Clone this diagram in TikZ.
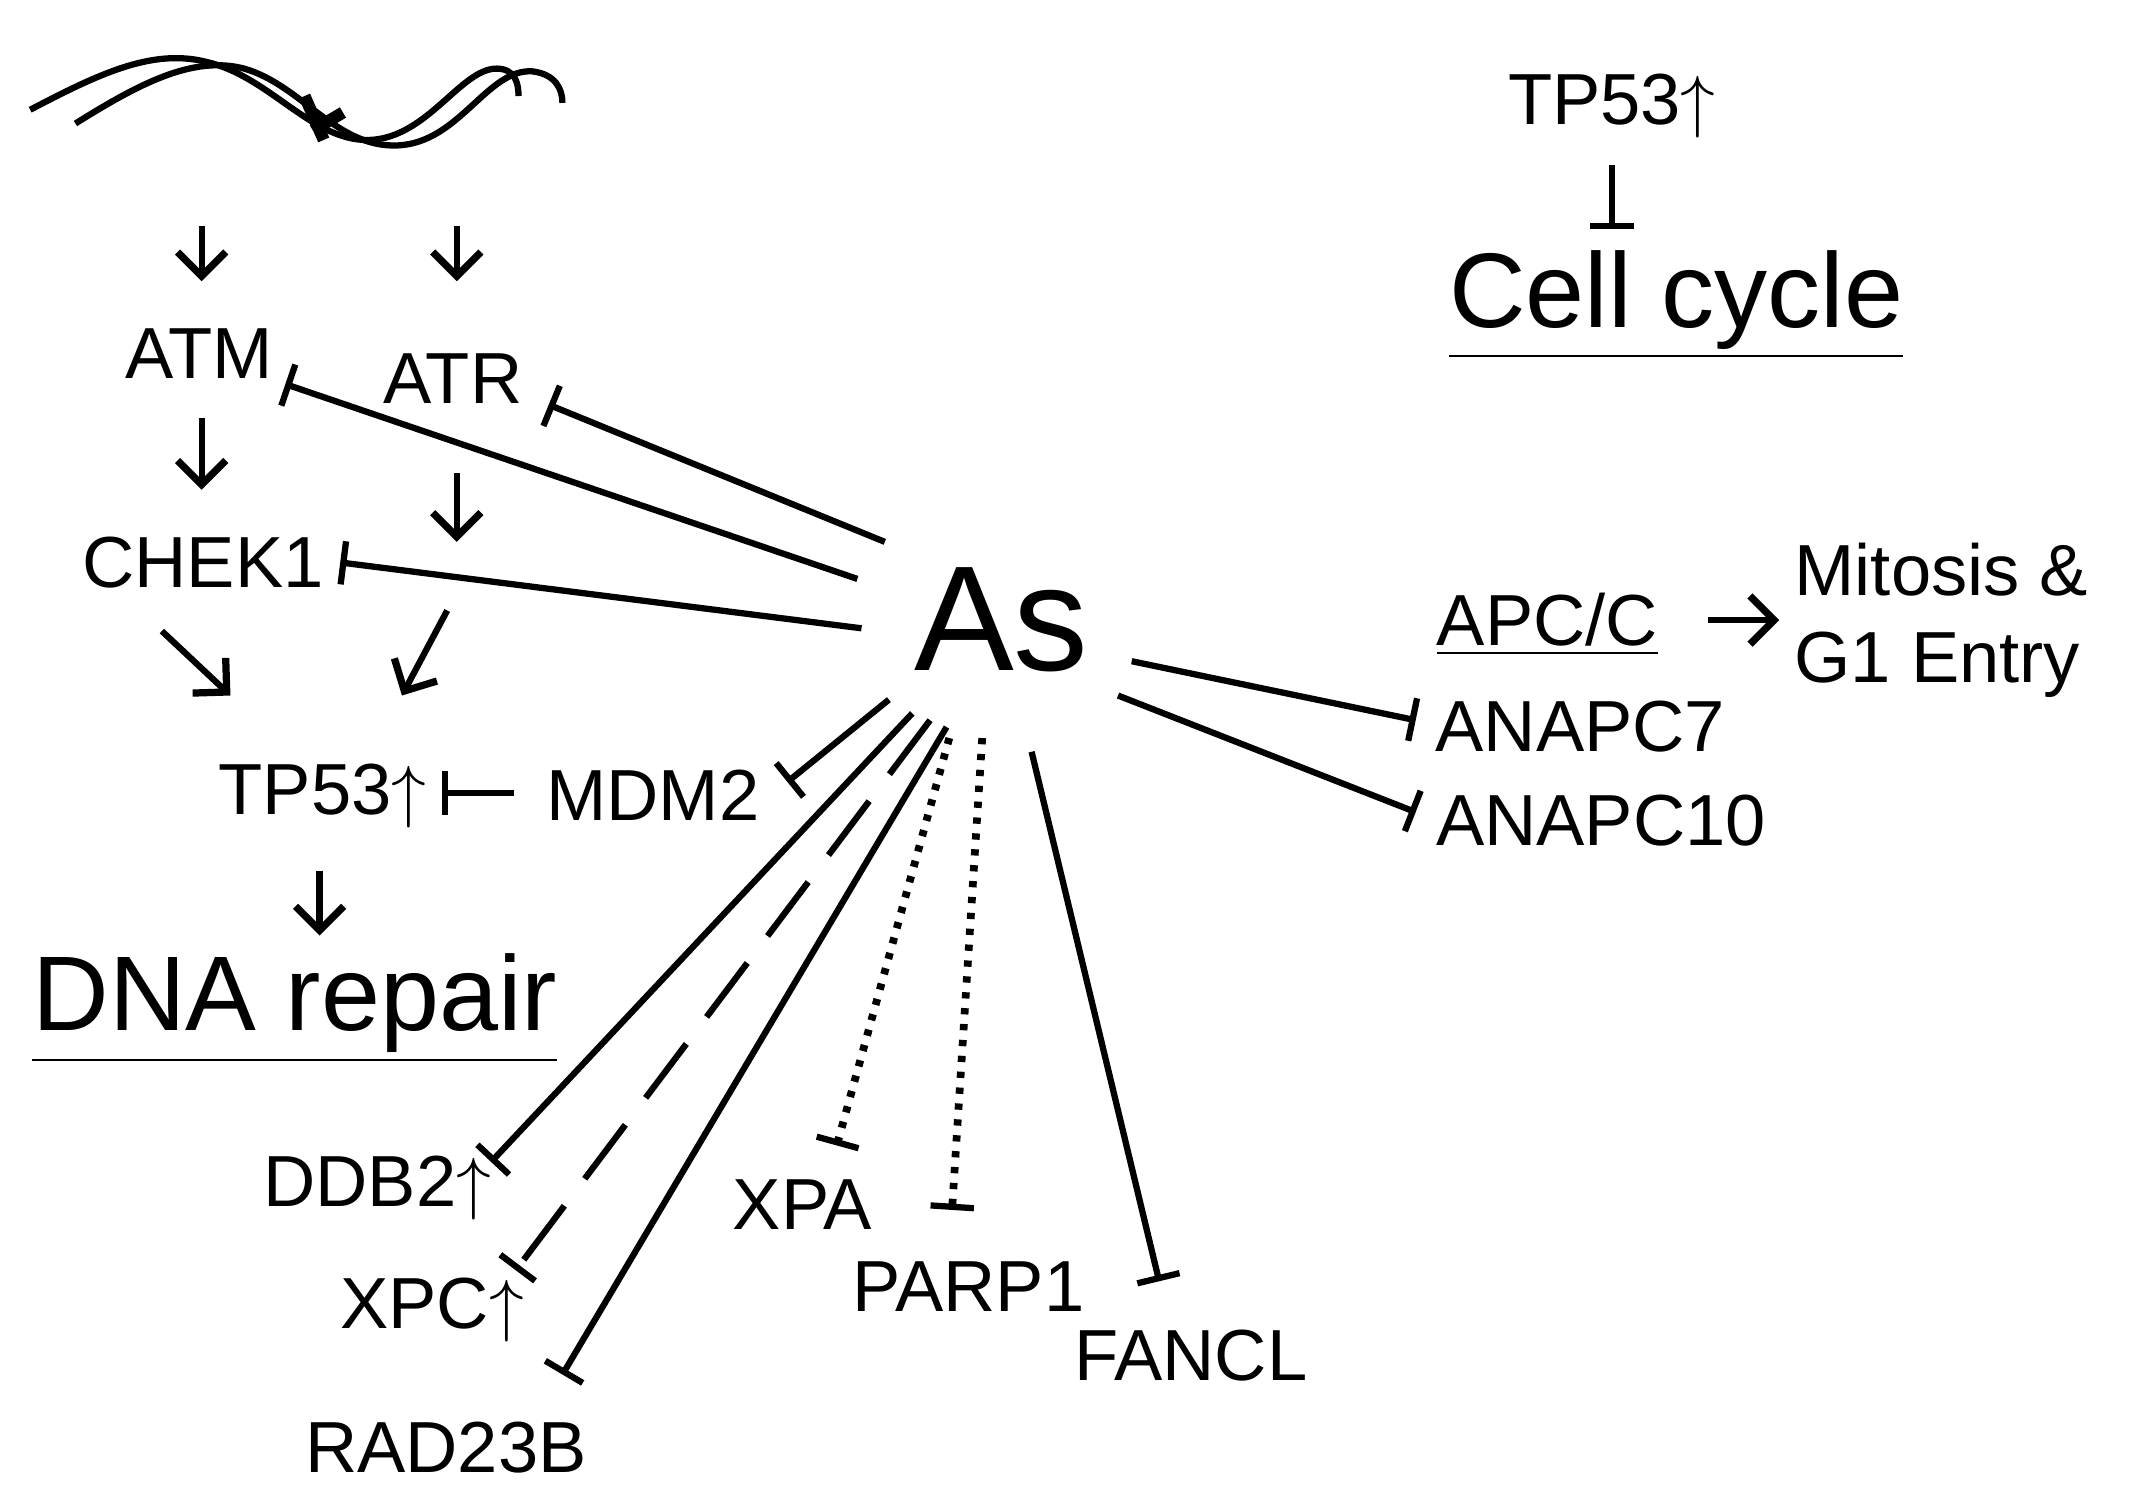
\documentclass[tikz,border=0pt]{standalone}
\usepackage{fontspec}
\setmainfont{Liberation Sans}
\usetikzlibrary{arrows.meta}
\begin{document}
\begin{tikzpicture}[x=0.01cm,y=-0.01cm,
  lbl/.style={font=\fontsize{15}{18}\selectfont,inner sep=1pt},
  con/.style={line width=1.3pt},
  inh/.style={con,-{Bar[width=9pt,line width=1.3pt]}},
  act/.style={con,-{Straight Barb[length=5pt,width=10pt,line width=1.5pt]}}]
\useasboundingbox (0,0) rectangle (1560,1093);
% DNA
\draw[line width=1.3pt] (22,80) .. controls (70,55) and (110,35) .. (150,45) .. controls (195,55) and (225,100) .. (265,102) .. controls (310,104) and (335,50) .. (362,50) .. controls (375,50) and (378,60) .. (378,70);
\draw[line width=1.3pt] (55,90) .. controls (100,62) and (140,40) .. (178,50) .. controls (220,62) and (245,108) .. (290,106) .. controls (335,104) and (355,50) .. (388,52) .. controls (405,54) and (410,65) .. (410,75);
\draw[line width=2.5pt] (222,70) -- (236,102) (228,95) -- (250,82);
% left nodes
\node[lbl] (ATM) at (145,258) {ATM};
\node[lbl] (ATR) at (330,276) {ATR};
\node[lbl] (CHEK1) at (148,410) {CHEK1};
\node[lbl] (TP53a) at (235,580) {TP53$\uparrow$};
\node[lbl] (MDM2) at (476,580) {MDM2};
\node[font=\fontsize{22}{26}\selectfont,inner sep=1pt] (DNA) at (215,735) {\underline{DNA repair}};
\coordinate (d1a) at (147,165); \coordinate (d1b) at (147,205);
\coordinate (d2a) at (333,165); \coordinate (d2b) at (333,205);
\draw[act] (d1a) -- (d1b); \draw[act] (d2a) -- (d2b);
\coordinate (m1a) at (147,305); \coordinate (m1b) at (147,357);
\coordinate (m2a) at (333,345); \coordinate (m2b) at (333,395);
\draw[act] (m1a) -- (m1b); \draw[act] (m2a) -- (m2b);
\coordinate (g1a) at (118,460); \coordinate (g1b) at (168,507);
\coordinate (g2a) at (326,445); \coordinate (g2b) at (293,507);
\draw[act] (g1a) -- (g1b); \draw[act] (g2a) -- (g2b);
\coordinate (mdS) at (375,578); \coordinate (mdE) at (322,578);
\draw[inh] (mdS) -- (mdE);
\coordinate (rA) at (233,635); \coordinate (rB) at (233,682);
\draw[act] (rA) -- (rB);
% As
\node[font=\fontsize{31}{36}\selectfont,inner sep=0pt] (As) at (730,452) {As};
\coordinate (sATM) at (625,422); \coordinate (eATM) at (208,280);
\coordinate (sATR) at (645,395); \coordinate (eATR) at (400,295);
\coordinate (sCH) at (628,458); \coordinate (eCH) at (248,410);
\coordinate (sMD) at (648,510); \coordinate (eMD) at (574,570);
\draw[inh] (sATM) -- (eATM);
\draw[inh] (sATR) -- (eATR);
\draw[inh] (sCH) -- (eCH);
\draw[inh] (sMD) -- (eMD);
\node[lbl] (DDB2) at (275,866) {DDB2$\uparrow$};
\node[lbl] (XPC) at (315,955) {XPC$\uparrow$};
\node[lbl] (RAD23B) at (325,1055) {RAD23B};
\node[lbl] (XPA) at (585,878) {XPA};
\node[lbl] (PARP1) at (706,938) {PARP1};
\node[lbl] (FANCL) at (868,988) {FANCL};
\coordinate (sDD) at (665,520); \coordinate (eDD) at (358,847);
\coordinate (sXC) at (678,525); \coordinate (eXC) at (376,926);
\coordinate (sRA) at (690,530); \coordinate (eRA) at (410,1002);
\coordinate (sXA) at (692,538); \coordinate (eXA) at (610,835);
\coordinate (sPA) at (716,538); \coordinate (ePA) at (694,882);
\coordinate (sFA) at (752,548); \coordinate (eFA) at (845,934);
\draw[inh] (sDD) -- (eDD);
\draw[inh,dash pattern=on 14pt off 7pt] (sXC) -- (eXC);
\draw[inh] (sRA) -- (eRA);
\draw[inh,dotted,line width=1.6pt] (sXA) -- (eXA);
\draw[inh,dotted,line width=1.6pt] (sPA) -- (ePA);
\draw[inh] (sFA) -- (eFA);
% right
\node[lbl] (AN7) at (1152,530) {ANAPC7};
\node[lbl] (AN10) at (1167,598) {ANAPC10};
\coordinate (s7) at (825,482); \coordinate (e7) at (1032,525);
\coordinate (s10) at (815,507); \coordinate (e10) at (1032,592);
\draw[inh] (s7) -- (e7);
\draw[inh] (s10) -- (e10);
\node[lbl] (APC) at (1128,455) {\underline{APC/C}};
\node[lbl,align=left,anchor=west] (Mit) at (1304,452) {Mitosis \&\\G1 Entry};
\coordinate (apA) at (1245,452); \coordinate (apB) at (1297,452);
\draw[act] (apA) -- (apB);
% top right
\node[lbl] (TP53b) at (1175,77) {TP53$\uparrow$};
\node[font=\fontsize{22}{26}\selectfont,inner sep=1pt] (CC) at (1222,222) {\underline{Cell cycle}};
\coordinate (tA) at (1175,120); \coordinate (tB) at (1175,167);
\draw[inh] (tA) -- (tB);
\end{tikzpicture}
\end{document}
